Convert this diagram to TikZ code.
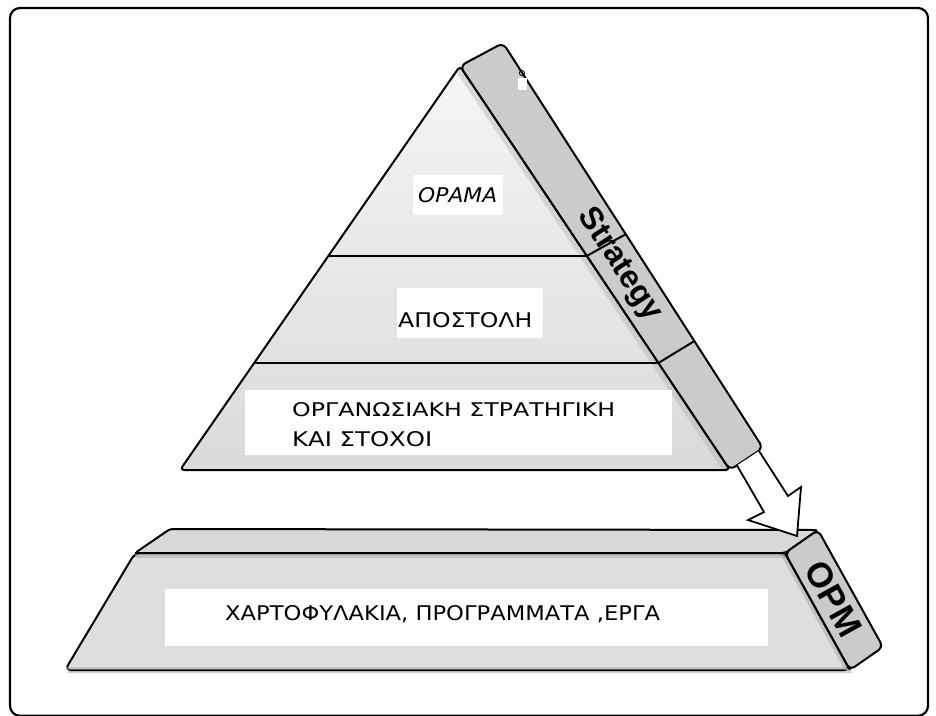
\documentclass[tikz,border=0pt]{standalone}
\usepackage{fontspec}
\usepackage{graphicx}
\setmainfont{DejaVu Sans}
\newfontfamily\bandfont{Liberation Sans}
\usetikzlibrary{calc}
\definecolor{faceTop}{HTML}{F5F5F5}
\definecolor{faceBot}{HTML}{DADADA}
\definecolor{bandGray}{HTML}{CBCBCB}
\definecolor{slabTop}{HTML}{D8D8D8}
\definecolor{slabFront}{HTML}{DEDEDE}
% stretch a line of text to a given width and cap height (in pt)
\newcommand{\fitline}[3]{\resizebox{#1pt}{#2pt}{#3}}
\begin{document}
\begin{tikzpicture}[x=1pt,y=-1pt,line join=round,
  outline/.style={draw=black,line width=2pt},
  labeltext/.style={anchor=base west,inner sep=0pt,text=black},
  bandtext/.style={sloped,inner sep=0pt,text=black,font=\bandfont\bfseries}]
\useasboundingbox (0,0) rectangle (936,715);

% outer frame
\draw[line width=2.2pt,rounded corners=10pt] (10,8) rectangle (928,715.8);

% ---------- base slab ----------
\coordinate (stl) at (170,529);
\coordinate (str) at (818,530);
\coordinate (sfl) at (135,553);
\coordinate (sfr) at (785,553);
\coordinate (sbl) at (65,670);
\coordinate (sbr) at (850,670);
\coordinate (sbo) at (883,647);

\fill[gray!35] ($(sfl)+(2,3)$) -- ($(sfr)+(2,3)$) -- ($(sbr)+(2,3)$) -- ($(sbl)+(2,3)$) -- cycle;
\filldraw[outline,fill=slabTop,rounded corners=3pt] (stl) -- (str) -- (sfr) -- (sfl) -- cycle;
\filldraw[outline,fill=slabFront,rounded corners=6pt] (sfl) -- (sfr) -- (sbr) -- (sbl) -- cycle;
\begin{scope}
  \clip (sfl) -- (sfr) -- (sbr) -- (sbl) -- cycle;
  \draw[gray!70,line width=4pt,opacity=0.5] ($(sfl)+(0,3)$) -- ($(sfr)+(0,3)$);
  \draw[gray!70,line width=4pt,opacity=0.5] ($(sfr)+(-3,0)$) -- ($(sbr)+(-3,0)$);
  \draw[gray!70,line width=3pt,opacity=0.5] ($(sbl)+(0,-2)$) -- ($(sbr)+(0,-2)$);
\end{scope}
\draw[outline] (sfl) -- (sfr) -- (sbr);
\filldraw[outline,fill=bandGray,rounded corners=5pt] (sfr) -- (str) -- (sbo) -- (sbr) -- cycle;

\fill[white] (165,589) rectangle (768,646);
\node[labeltext] (works) at (225,620)
  {\fitline{435}{15}{ΧΑΡΤΟΦΥΛΑΚΙΑ, ΠΡΟΓΡΑΜΜΑΤΑ ,ΕΡΓΑ}};

% ---------- pyramid ----------
\coordinate (apex) at (460,66);
\coordinate (pbl) at (180,470);
\coordinate (pbr) at (730,470);
\coordinate (btop) at (503,43);
\coordinate (bbot) at (763,448);

\coordinate (d1l) at ($(apex)!0.470!(pbl)$);
\coordinate (d1r) at ($(apex)!0.470!(pbr)$);
\coordinate (d2l) at ($(apex)!0.735!(pbl)$);
\coordinate (d2r) at ($(apex)!0.735!(pbr)$);
\coordinate (d1o) at ($(btop)!0.472!(bbot)$);
\coordinate (d2o) at ($(btop)!0.736!(bbot)$);

\shade[top color=faceTop,bottom color=faceBot,rounded corners=4pt]
  (apex) -- (pbr) -- (pbl) -- cycle;
\begin{scope}
  \clip (apex) -- (pbr) -- (pbl) -- cycle;
  \draw[gray!70,line width=6pt,opacity=0.35] ($(apex)+(-4,0)$) -- ($(pbr)+(-4,0)$);
\end{scope}
\draw[outline,rounded corners=4pt] (apex) -- (pbr) -- (pbl) -- cycle;
\draw[outline] (d1l) -- (d1r);
\draw[outline] (d2l) -- (d2r);

\filldraw[outline,fill=bandGray,rounded corners=6pt] (apex) -- (btop) -- (bbot) -- (pbr) -- cycle;

% small mark on the band edge
\fill[white] (518,78) rectangle (527,90);
\draw[line width=0.8pt] (522,73) circle (2.6);

% text panels on the pyramid
\fill[white] (413,175) rectangle (503,215);
\node[labeltext] (vision) at (418,202) {\fitline{79}{15}{\itshape ΟΡΑΜΑ}};

\fill[white] (397,288) rectangle (543,338);
\node[labeltext] (mission) at (398,327) {\fitline{134}{15}{ΑΠΟΣΤΟΛΗ}};

\fill[white] (245,390) rectangle (672,455);
\node[labeltext] (strat1) at (292,416) {\fitline{323}{14}{ΟΡΓΑΝΩΣΙΑΚΗ ΣΤΡΑΤΗΓΙΚΗ}};
\node[labeltext] (strat2) at (292,446) {\fitline{140}{15}{ΚΑΙ ΣΤΟΧΟΙ}};

% band labels
\path ($(apex)!0.5!(btop)$) -- ($(pbr)!0.5!(bbot)$)
  node[bandtext,pos=0.52,font=\bandfont\bfseries\fontsize{32}{32}\selectfont] (strategy) {Strategy};
\draw[outline] (d1r) -- (d1o);
\draw[outline] (d2r) -- (d2o);

\path ($(sfr)!0.5!(str)$) -- ($(sbr)!0.5!(sbo)$)
  node[bandtext,pos=0.49,font=\bandfont\bfseries\fontsize{35}{35}\selectfont] (opm) {OPM};

% ---------- block arrow from the pyramid band down to the slab ----------
\coordinate (s1) at (737,465.5);
\coordinate (s2) at (764,512);
\coordinate (b1) at (748,520);
\coordinate (tip) at (797,536);
\coordinate (b2) at (801,487);
\coordinate (s3) at (788,496);
\coordinate (s4) at (759,451);
\filldraw[fill=white,draw=black,line width=1.8pt,line join=miter]
  (s1) -- (s2) -- (b1) -- (tip) -- (b2) -- (s3) -- (s4);
\end{tikzpicture}
\end{document}
